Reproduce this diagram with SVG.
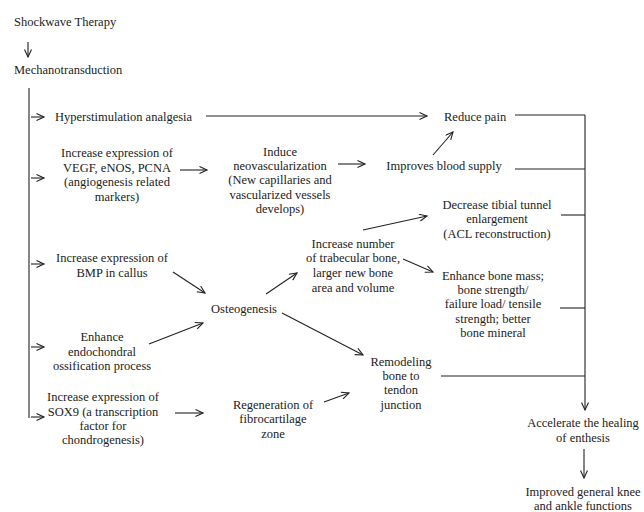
<svg xmlns="http://www.w3.org/2000/svg" width="644" height="512" viewBox="0 0 644 512">
<style>
text{font-family:"Liberation Serif","Times New Roman",serif;font-size:12.5px;fill:#222}
.c{text-anchor:middle}
.ln{stroke:#222;stroke-width:1.1;fill:none}
.ar{stroke:#222;stroke-width:1.1;fill:none;marker-end:url(#ah)}
</style>
<defs>
<marker id="ah" markerUnits="userSpaceOnUse" markerWidth="10" markerHeight="10" refX="8" refY="4" orient="auto">
<path d="M0.5,0.5 L8,4 L0.5,7.5" fill="none" stroke="#222" stroke-width="1.1"/>
</marker>
</defs>
<rect width="644" height="512" fill="#fff"/>
<g id="n-shockwave"><text x="14" y="26">Shockwave Therapy</text></g>
<g id="n-mechano"><text x="14" y="74">Mechanotransduction</text></g>
<g id="n-hyper"><text x="55" y="121">Hyperstimulation analgesia</text></g>
<g id="n-vegf"><text class="c" x="117" y="157">Increase expression of</text><text class="c" x="117" y="172">VEGF, eNOS, PCNA</text><text class="c" x="117" y="186">(angiogenesis related</text><text class="c" x="117" y="201">markers)</text></g>
<g id="n-bmp"><text class="c" x="112" y="262">Increase expression of</text><text class="c" x="112" y="277">BMP in callus</text></g>
<g id="n-endo"><text class="c" x="102" y="341">Enhance</text><text class="c" x="102" y="356">endochondral</text><text class="c" x="102" y="370">ossification process</text></g>
<g id="n-sox9"><text class="c" x="103" y="401">Increase expression of</text><text class="c" x="103" y="416">SOX9 (a transcription</text><text class="c" x="103" y="430">factor for</text><text class="c" x="103" y="444">chondrogenesis)</text></g>
<g id="n-induce"><text class="c" x="280" y="156">Induce</text><text class="c" x="280" y="170">neovascularization</text><text class="c" x="280" y="184">(New capillaries and</text><text class="c" x="280" y="199">vascularized vessels</text><text class="c" x="280" y="213">develops)</text></g>
<g id="n-osteo"><text class="c" x="244" y="313">Osteogenesis</text></g>
<g id="n-regen"><text class="c" x="273" y="409">Regeneration of</text><text class="c" x="273" y="423">fibrocartilage</text><text class="c" x="273" y="438">zone</text></g>
<g id="n-trab"><text class="c" x="353" y="248">Increase number</text><text class="c" x="353" y="262">of trabecular bone,</text><text class="c" x="353" y="277">larger new bone</text><text class="c" x="353" y="292">area and volume</text></g>
<g id="n-remod"><text class="c" x="401" y="366">Remodeling</text><text class="c" x="401" y="380">bone to</text><text class="c" x="401" y="394">tendon</text><text class="c" x="401" y="409">junction</text></g>
<g id="n-pain"><text x="444" y="121">Reduce pain</text></g>
<g id="n-blood"><text class="c" x="444" y="170">Improves blood supply</text></g>
<g id="n-tibial"><text class="c" x="497" y="209">Decrease tibial tunnel</text><text class="c" x="497" y="223">enlargement</text><text class="c" x="497" y="238">(ACL reconstruction)</text></g>
<g id="n-mass"><text class="c" x="493" y="280">Enhance bone mass;</text><text class="c" x="493" y="294">bone strength/</text><text class="c" x="493" y="308">failure load/ tensile</text><text class="c" x="493" y="323">strength; better</text><text class="c" x="493" y="337">bone mineral</text></g>
<g id="n-heal"><text class="c" x="583" y="427">Accelerate the healing</text><text class="c" x="583" y="442">of enthesis</text></g>
<g id="n-knee"><text class="c" x="583" y="496">Improved general knee</text><text class="c" x="583" y="510">and ankle functions</text></g>
<g id="connectors">
<line class="ar" x1="28" y1="42" x2="28" y2="57"/>
<line class="ln" x1="29" y1="88" x2="29" y2="418"/>
<line class="ar" x1="31" y1="117" x2="44" y2="117"/>
<line class="ar" x1="31" y1="178" x2="44" y2="178"/>
<line class="ar" x1="31" y1="264" x2="44" y2="264"/>
<line class="ar" x1="31" y1="347" x2="44" y2="347"/>
<line class="ar" x1="31" y1="417" x2="44" y2="417"/>
<line class="ar" x1="206" y1="116" x2="427" y2="116"/>
<line class="ar" x1="180" y1="170" x2="207" y2="170"/>
<line class="ar" x1="338" y1="164" x2="365" y2="164"/>
<line class="ar" x1="433" y1="155" x2="453" y2="132"/>
<line class="ar" x1="173" y1="272" x2="205" y2="293"/>
<line class="ar" x1="149" y1="344" x2="203" y2="323"/>
<line class="ar" x1="175" y1="413" x2="203" y2="413"/>
<line class="ar" x1="266" y1="294" x2="297" y2="273"/>
<line class="ar" x1="282" y1="313" x2="363" y2="355"/>
<line class="ar" x1="324" y1="402" x2="349" y2="393"/>
<line class="ar" x1="363" y1="230" x2="427" y2="216"/>
<line class="ar" x1="403" y1="259" x2="433" y2="272"/>
<line class="ln" x1="515" y1="115" x2="585" y2="115"/>
<line class="ln" x1="515" y1="169" x2="585" y2="169"/>
<line class="ln" x1="561" y1="215" x2="585" y2="215"/>
<line class="ln" x1="560" y1="308" x2="585" y2="308"/>
<line class="ln" x1="441" y1="376" x2="585" y2="376"/>
<line class="ar" x1="585" y1="115" x2="585" y2="410"/>
<line class="ar" x1="584" y1="449" x2="584" y2="478"/>
</g>
</svg>
